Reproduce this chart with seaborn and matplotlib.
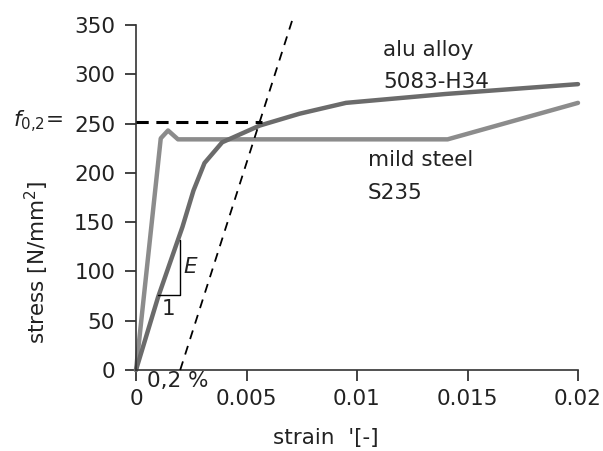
import numpy as np
import pandas as pd
import matplotlib
matplotlib.use("Agg")
import matplotlib.pyplot as plt
import seaborn as sns

# Stress-strain curves (strain [-], stress [N/mm^2])
steel_strain = [0.0, 0.00112, 0.00145, 0.0019, 0.0141, 0.0200]
steel_stress = [0.0, 235, 243, 234, 234, 271]

alu_strain = [0.0, 0.0010, 0.0021, 0.0026, 0.0031, 0.0039, 0.0056, 0.0074, 0.0095, 0.0140, 0.0200]
alu_stress = [0.0, 74, 145, 182, 210, 231, 248, 260, 271, 280, 290]

# 0.2 % proof stress construction
proof_offset = 0.002
alu_modulus = 70000.0
f02 = 252

x_ticks = [0, 0.005, 0.01, 0.015, 0.02]
x_tick_labels = ["0", "0.005", "0.01", "0.015", "0.02"]
y_ticks = [0, 50, 100, 150, 200, 250, 300, 350]

FS = 15.5
TXT = "#222222"

sns.set_style("ticks")
plt.rcParams["font.family"] = ["DejaVu Sans"]
plt.rcParams["mathtext.fontset"] = "dejavusans"

fig = plt.figure(figsize=(6.03, 4.51), dpi=100)
ax = fig.add_axes([136 / 603, 1 - 370 / 451, (578 - 136) / 603, (370 - 25) / 451])

steel = pd.DataFrame({"strain": steel_strain, "stress": steel_stress})
alu = pd.DataFrame({"strain": alu_strain, "stress": alu_stress})

sns.lineplot(data=steel, x="strain", y="stress", ax=ax, color="#8c8c8c",
             lw=3.2, sort=False, estimator=None, clip_on=False)
sns.lineplot(data=alu, x="strain", y="stress", ax=ax, color="#6b6b6b",
             lw=3.2, sort=False, estimator=None, clip_on=False)

# offset line parallel to the elastic branch of the alloy
top = 355
ax.plot([proof_offset, proof_offset + top / alu_modulus], [0, top],
        color="black", lw=1.3, ls=(0, (5, 4)), clip_on=False, zorder=5)
# horizontal line at the proof stress
x_int = proof_offset + f02 / alu_modulus
ax.plot([0, x_int + 0.0001], [f02, f02], color="black", lw=2.2,
        ls=(0, (4, 2.5)), clip_on=False, zorder=5)

# slope triangle for E
ax.plot([0.00100, 0.00200, 0.00200], [76, 76, 132], color="black", lw=1.0)
ax.text(0.00245, 104, "E", fontsize=FS, fontstyle="italic", ha="center",
        va="center", color=TXT)
ax.text(0.00147, 62, "1", fontsize=FS, ha="center", va="center", color=TXT)

ax.text(0.00052, -11, "0,2 %", fontsize=FS, ha="left", va="center", color=TXT)

ax.text(0.01118, 325, "alu alloy", fontsize=FS, ha="left", va="center", color=TXT)
ax.text(0.01118, 292, "5083-H34", fontsize=FS, ha="left", va="center", color=TXT)
ax.text(0.01050, 213, "mild steel", fontsize=FS, ha="left", va="center", color=TXT)
ax.text(0.01050, 180, "S235", fontsize=FS, ha="left", va="center", color=TXT)

fig.text(13 / 603, 1 - 122 / 451, r"$\mathit{f}_{\mathit{0{,}2}}$=", fontsize=FS,
         ha="left", va="center", color=TXT)

ax.set_xlim(0, 0.02)
ax.set_ylim(0, 350)
ax.set_xticks(x_ticks)
ax.set_xticklabels(x_tick_labels)
ax.set_yticks(y_ticks)
ax.tick_params(axis="both", labelsize=FS, colors=TXT, length=8, width=1.2)
ax.tick_params(axis="y", pad=7)
ax.tick_params(axis="x", pad=6)

ax.set_xlabel("strain  '[-]", fontsize=FS, color=TXT)
ax.set_ylabel(r"stress [N/mm$^2$]", fontsize=FS, color=TXT)
ax.xaxis.label.set_va("center")
ax.yaxis.label.set_va("center")
ax.xaxis.set_label_coords(0.43, -0.197)
ax.yaxis.set_label_coords(-0.225, 0.313)

sns.despine(ax=ax)
for side in ("left", "bottom"):
    ax.spines[side].set_color("#333333")
    ax.spines[side].set_linewidth(1.2)

fig.savefig("out.png", dpi=100, facecolor="white")
